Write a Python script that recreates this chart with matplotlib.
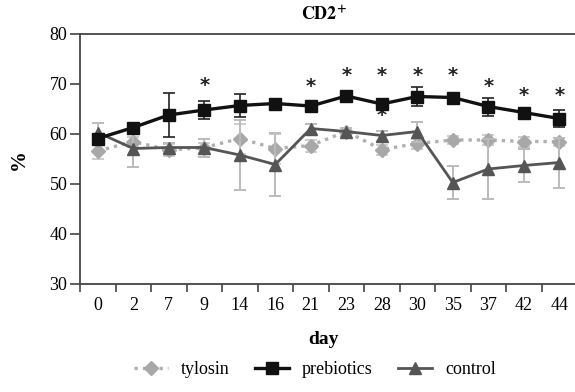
import matplotlib
matplotlib.use("Agg")
import matplotlib.pyplot as plt
from matplotlib.lines import Line2D
import numpy as np

days = ["0", "2", "7", "9", "14", "16", "21", "23", "28", "30", "35", "37", "42", "44"]
tylosin = [56.6, 58.5, 56.8, 57.3, 59.1, 57.1, 57.7, 60.5, 56.9, 58.1, 58.8, 58.8, 58.5, 58.5]
tylosin_err = [1.5, 1.0, 1.2, 1.0, 3.0, 3.0, 1.2, 0.8, 1.0, 1.0, 0.8, 1.0, 1.0, 0.8]
prebiotics = [59.1, 61.3, 63.8, 64.8, 65.7, 66.1, 65.6, 67.6, 66.0, 67.5, 67.3, 65.5, 64.3, 63.1]
prebiotics_err = [1.0, 0.5, 4.4, 1.8, 2.3, 0.8, 0.6, 0.5, 0.6, 1.9, 0.5, 1.8, 0.6, 1.7]
control = [60.3, 57.1, 57.3, 57.3, 55.8, 53.9, 61.1, 60.5, 59.7, 60.5, 50.3, 53.0, 53.7, 54.3]
control_err = [2.0, 3.7, 1.0, 1.8, 7.0, 6.3, 1.0, 0.8, 1.0, 2.0, 3.3, 6.0, 3.4, 5.0]
star_days = ["9", "21", "23", "28", "30", "35", "37", "42", "44", "28"]
star_levels = [69.7, 69.5, 71.8, 71.8, 71.8, 71.8, 69.5, 67.6, 67.6, 63.8]

plt.rcParams['font.family'] = 'serif'
plt.rcParams['font.serif'] = ['Liberation Serif', 'DejaVu Serif']
plt.rcParams['mathtext.fontset'] = 'stix'

fig = plt.figure(figsize=(5.75, 3.92), dpi=100)
W, H = 575, 392
ax = fig.add_axes([80 / W, 1 - 284 / H, 497 / W, 250 / H])

x = np.arange(len(days))

ty_style = dict(color='#b0b0b0', linestyle=(0, (1, 1.5)), linewidth=2.4, marker='D',
                markersize=7.5, markerfacecolor='#a8a8a8', markeredgecolor='#a8a8a8')
co_style = dict(color='#555555', linestyle='-', linewidth=2.0, marker='^', markersize=8,
                markerfacecolor='#555555', markeredgecolor='#555555')
pr_style = dict(color='#111111', linestyle='-', linewidth=2.4, marker='s', markersize=8.5,
                markerfacecolor='#111111', markeredgecolor='#111111')

ax.errorbar(x, tylosin, yerr=tylosin_err, ecolor='#cccccc', capsize=4,
            elinewidth=1.4, capthick=1.4, zorder=2, **ty_style)
ax.errorbar(x, control, yerr=control_err, ecolor='#bbbbbb', capsize=4,
            elinewidth=1.4, capthick=1.4, zorder=3, **co_style)
ax.errorbar(x, prebiotics, yerr=prebiotics_err, ecolor='#222222', capsize=4,
            elinewidth=1.2, capthick=1.2, zorder=4, **pr_style)

for d, lv in zip(star_days, star_levels):
    ax.text(days.index(d), lv, "*", ha='center', va='center', fontsize=14,
            fontweight='bold', color='#222222', family='DejaVu Sans')

ax.set_xlim(-0.5, len(days) - 0.5)
ax.set_ylim(30, 80)
ax.set_yticks([30, 40, 50, 60, 70, 80])
ax.set_xticks(np.arange(-0.5, len(days), 1.0))
ax.set_xticklabels([])
ax.set_xticks(x, minor=True)
ax.set_xticklabels(days, minor=True)
ax.tick_params(axis='x', which='major', direction='out', length=6, width=1.2, color='#444444')
ax.tick_params(axis='x', which='minor', length=0, pad=9, labelsize=13)
ax.tick_params(axis='y', direction='out', length=7, width=1.2, color='#444444', labelsize=13, pad=2)

for s in ['left', 'bottom', 'top']:
    ax.spines[s].set_color('#444444')
    ax.spines[s].set_linewidth(1.3)
ax.spines['right'].set_visible(False)

fig.text(324 / W, 1 - 15 / H, r"$\mathbf{CD2^{+}}$", ha='center', va='center',
         fontsize=13)
fig.text(19 / W, 1 - 160 / H, "%", ha='center', va='center', rotation=90,
         fontsize=15, fontweight='bold')
fig.text(323 / W, 1 - 340 / H, "day", ha='center', va='center',
         fontsize=14, fontweight='bold')

handles = [Line2D([], [], **ty_style), Line2D([], [], **pr_style), Line2D([], [], **co_style)]
labels = ['tylosin', 'prebiotics', 'control']
fig.legend(handles, labels, loc='center', bbox_to_anchor=(315 / W, 1 - 370 / H), ncol=3,
           frameon=False, fontsize=13, handlelength=1.9, columnspacing=1.4,
           handletextpad=0.7)

fig.savefig("out.png", dpi=100)
